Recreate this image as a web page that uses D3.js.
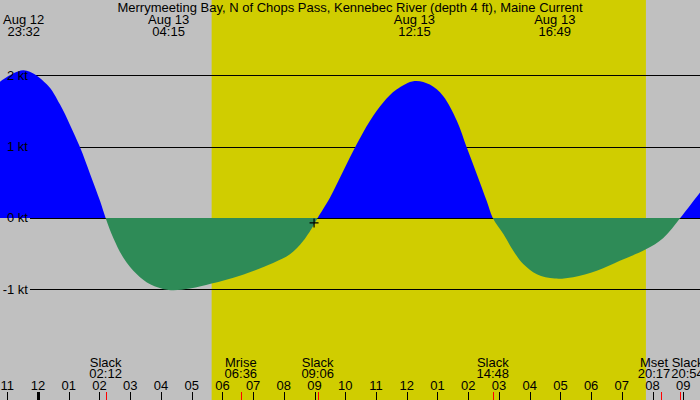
<!DOCTYPE html>
<html>
<head>
<meta charset="utf-8">
<script src="https://cdn.jsdelivr.net/npm/d3@7"></script>
<style>
  html, body { margin: 0; padding: 0; background: #fff; }
  svg { display: block; }
  text { font-family: "Liberation Sans", Arial, sans-serif; fill: #000; }
</style>
</head>
<body>
<svg id="chart" width="700" height="400"></svg>
<script>
// ---------------- data ----------------
const title = "Merrymeeting Bay, N of Chops Pass, Kennebec River (depth 4 ft), Maine Current";

const flowTimes = ["08-12 22:40","08-12 23:32","08-13 00:17","08-13 00:43","08-13 01:02","08-13 01:22",
  "08-13 01:42","08-13 02:01","08-13 02:12","08-13 02:27","08-13 02:47","08-13 03:13","08-13 03:39",
  "08-13 04:15","08-13 04:57","08-13 05:39","08-13 06:34","08-13 07:39","08-13 08:12","08-13 08:38",
  "08-13 08:59","08-13 09:06","08-13 09:30","08-13 09:56","08-13 10:22","08-13 10:48","08-13 11:14",
  "08-13 11:40","08-13 12:15","08-13 12:45","08-13 13:11","08-13 13:38","08-13 13:57","08-13 14:17",
  "08-13 14:36","08-13 14:48","08-13 15:09","08-13 15:28","08-13 15:48","08-13 16:14","08-13 16:49",
  "08-13 17:25","08-13 18:11","08-13 18:56","08-13 19:47","08-13 20:21","08-13 20:54","08-13 21:35"];
const flowKnots = [1.88, 2.07, 1.875, 1.59, 1.31, 0.99,
  0.61, 0.24, 0, -0.28, -0.56, -0.79, -0.93,
  -1.01, -0.99, -0.92, -0.81, -0.63, -0.51, -0.32,
  -0.09, 0, 0.285, 0.66, 1.03, 1.36, 1.62,
  1.80, 1.92, 1.87, 1.71, 1.36, 0.99, 0.61,
  0.24, 0, -0.23, -0.46, -0.65, -0.79, -0.85,
  -0.83, -0.74, -0.60, -0.44, -0.28, 0, 0.38];

const knotTicks = [-1, 0, 1, 2];

const extremeTimes = ["08-12 23:32", "08-13 04:15", "08-13 12:15", "08-13 16:49"];

const eventNames = ["Slack", "Mrise", "Slack", "Slack", "Mset", "Slack"];
const eventTimes = ["08-13 02:12", "08-13 06:36", "08-13 09:06", "08-13 14:48", "08-13 20:17", "08-13 20:54"];

const sunTimes = ["08-13 05:39", "08-13 19:47"];   // sunrise, sunset

const markTime = "08-13 08:59";
const markKnots = -0.07;

// calibration of the time axis (hour tick at 23:00 and 21:00)
const axisTimes = ["08-12 23:00", "08-13 21:00"];

// ---------------- setup ----------------
const W = 700, H = 400;
const parse = d3.timeParse("%m-%d %H:%M");
const svg = d3.select("#chart");

const x = d3.scaleTime()
  .domain(axisTimes.map(parse))
  .range([7.3, 683.3]);
const y = d3.scaleLinear().domain([-1, 2]).range([289.3, 75.3]);

const t0 = x.invert(0), t1 = x.invert(W);
const data = flowTimes.map((t, i) => ({ t: parse(t), v: flowKnots[i] }));

// background
svg.append("rect").attr("width", W).attr("height", H).attr("fill", "#c0c0c0");
const sr = parse(sunTimes[0]), ss = parse(sunTimes[1]);
svg.append("rect")
  .attr("x", x(sr)).attr("y", 0)
  .attr("width", x(ss) - x(sr)).attr("height", H)
  .attr("fill", "#d0cd00");

// grid lines
svg.append("g").selectAll("line").data(knotTicks).join("line")
  .attr("x1", 30).attr("x2", W)
  .attr("y1", d => Math.round(y(d)) + 0.5).attr("y2", d => Math.round(y(d)) + 0.5)
  .attr("stroke", "#000").attr("stroke-width", 1);

// clip paths for flood / ebb
const y0 = Math.round(y(0));
const defs = svg.append("defs");
defs.append("clipPath").attr("id", "floodClip")
  .append("rect").attr("x", 0).attr("y", 0).attr("width", W).attr("height", y0);
defs.append("clipPath").attr("id", "ebbClip")
  .append("rect").attr("x", 0).attr("y", y0).attr("width", W).attr("height", H - y0);

const area = d3.area()
  .x(d => x(d.t))
  .y0(y0)
  .y1(d => y(d.v))
  .curve(d3.curveCatmullRom.alpha(0.5));

svg.append("path").datum(data).attr("d", area)
  .attr("fill", "#0000ff").attr("clip-path", "url(#floodClip)");
svg.append("path").datum(data).attr("d", area)
  .attr("fill", "#2e8b57").attr("clip-path", "url(#ebbClip)");

// y labels
svg.append("g").selectAll("text").data(knotTicks).join("text")
  .attr("x", 28).attr("y", d => y(d) + 4.5)
  .attr("text-anchor", "end").attr("font-size", 13)
  .text(d => d + " kt");

// current marker (+)
const mx = x(parse(markTime)), my = y(markKnots);
svg.append("path")
  .attr("d", `M${mx - 4.5},${my}H${mx + 4.5}M${mx},${my - 4.5}V${my + 4.5}`)
  .attr("stroke", "#000").attr("stroke-width", 1.2);

// title
svg.append("text").attr("x", W / 2).attr("y", 12)
  .attr("text-anchor", "middle").attr("font-size", 13).text(title);

// extreme labels at top
const fmtDay = d3.timeFormat("%b %d"), fmtHM = d3.timeFormat("%H:%M");
const ext = svg.append("g").selectAll("g").data(extremeTimes.map(parse)).join("g")
  .attr("transform", d => `translate(${x(d)},0)`);
ext.append("text").attr("y", 24).attr("text-anchor", "middle").attr("font-size", 13).text(d => fmtDay(d));
ext.append("text").attr("y", 36).attr("text-anchor", "middle").attr("font-size", 13).text(d => fmtHM(d));

// hour ticks & labels
const hours = d3.timeHour.range(d3.timeHour.ceil(t0), t1);
svg.append("g").selectAll("line").data(hours).join("line")
  .attr("x1", d => Math.round(x(d)) + 0.5).attr("x2", d => Math.round(x(d)) + 0.5)
  .attr("y1", 392).attr("y2", H)
  .attr("stroke", "#000")
  .attr("stroke-width", d => d.getHours() === 0 ? 3 : 1);
svg.append("g").selectAll("text").data(hours).join("text")
  .attr("x", d => x(d)).attr("y", 390)
  .attr("text-anchor", "middle").attr("font-size", 13)
  .text(d => d3.timeFormat("%I")(d));

// events (slack, moon) with red ticks
const evs = eventTimes.map((t, i) => ({ t: parse(t), name: eventNames[i] }));
svg.append("g").selectAll("line").data(evs).join("line")
  .attr("x1", d => Math.round(x(d.t)) + 0.5).attr("x2", d => Math.round(x(d.t)) + 0.5)
  .attr("y1", 392).attr("y2", H)
  .attr("stroke", "#ff0000").attr("stroke-width", 1);

const evG = svg.append("g").selectAll("g").data(evs).join("g");
evG.append("text").attr("y", 367).attr("text-anchor", "middle").attr("font-size", 13).text(d => d.name);
evG.append("text").attr("y", 378).attr("text-anchor", "middle").attr("font-size", 13).text(d => fmtHM(d.t));

// resolve overlapping event labels
const widths = [];
evG.each(function () {
  let w = 0;
  d3.select(this).selectAll("text").each(function () { w = Math.max(w, this.getComputedTextLength()); });
  widths.push(w);
});
const cx = evs.map(d => x(d.t));
for (let i = 1; i < cx.length; i++) {
  const need = (widths[i - 1] + widths[i]) / 2 + 1;
  const gap = cx[i] - cx[i - 1];
  if (gap < need) {
    const push = (need - gap) / 2;
    cx[i - 1] -= push;
    cx[i] += push;
  }
}
evG.attr("transform", (d, i) => `translate(${cx[i]},0)`);
</script>
</body>
</html>
